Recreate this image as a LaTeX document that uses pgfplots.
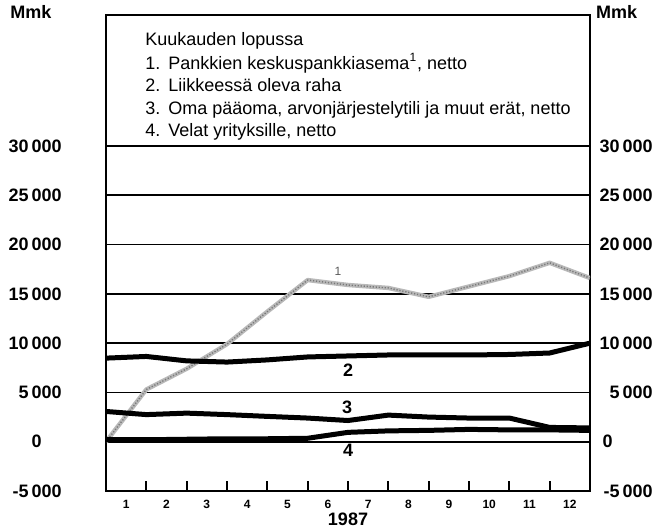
\documentclass[border=0pt]{standalone}
\usepackage{fontspec}
\setmainfont{Liberation Sans}
\usepackage{pgfplots}
\usepackage{pgfplotstable}
\pgfplotsset{compat=1.18}

% month-end values, Mmk (x = month boundary)
\pgfplotstableread{
x    s1    s2    s3   s4
0.5  0     8480  3070 200
1.5  5300  8650  2750 200
2.5  7400  8200  2900 250
3.5  9900  8080  2750 300
4.5  13200 8300  2570 300
5.5  16400 8600  2400 350
6.5  15900 8700  2150 950
7.5  15600 8800  2700 1100
8.5  14700 8800  2500 1150
9.5  15750 8800  2400 1250
10.5 16800 8850  2400 1200
11.5 18150 9000  1450 1200
12.5 16600 10000 1400 1150
}\datatable

\newcommand{\tickfont}{\bfseries\fontsize{9}{9}\selectfont}

\begin{document}
\begin{tikzpicture}
\path[use as bounding box] (0,0) rectangle (328.5pt,265pt);
\begin{axis}[
  at={(53pt,19.5pt)}, anchor=south west,
  scale only axis, width=242pt, height=238pt,
  xmin=0.5, xmax=12.5, ymin=-5000, ymax=43290,
  scaled y ticks=false,
  /pgf/number format/assume math mode=true,
  axis line style={line width=1pt},
  xtick={1,...,12}, major x tick style={draw=none},
  minor xtick={1.5,2.5,...,11.5}, minor tick length=5pt,
  minor tick style={line width=1pt, black},
  xtick align=inside, xtick pos=bottom,
  xticklabel style={font=\bfseries\fontsize{6}{6}\selectfont, yshift=-1pt},
  xlabel={1987},
  every axis x label/.style={at={(axis description cs:0.5,0)}, anchor=center,
    yshift=-14pt, font=\tickfont},
  ytick={-5000,0,...,30000},
  yticklabels={-5\,000,0\phantom{00},5\,000,10\,000,15\,000,20\,000,25\,000,30\,000},
  yticklabel style={anchor=east, inner sep=0pt, xshift=-22pt, font=\tickfont},
  ytick style={draw=none},
  ymajorgrids, major grid style={black, line width=0.8pt},
  every axis plot/.append style={line join=round},
]
\addplot[gray!55, line width=2.2pt] table[x=x, y=s1] {\datatable};
\addplot[gray!95!black, line width=0.7pt, dash pattern=on 0.6pt off 0.9pt] table[x=x, y=s1] {\datatable};
\addplot[black, line width=2.5pt] table[x=x, y=s2] {\datatable};
\addplot[black, line width=2.5pt] table[x=x, y=s3] {\datatable};
\addplot[black, line width=2.5pt] table[x=x, y=s4] {\datatable};

\node[font=\fontsize{6}{6}\selectfont, text=gray!70!black] at (axis cs:6.25,17250) {1};
\node[font=\tickfont] at (axis cs:6.5,7300) {2};
\node[font=\tickfont] at (axis cs:6.48,3450) {3};
\node[font=\tickfont] at (axis cs:6.5,-910) {4};

\begin{scope}[every node/.style={anchor=base west, inner sep=0pt, font=\fontsize{9}{10}\selectfont}]
\node at ([xshift=19.5pt, yshift=-15.2pt]rel axis cs:0,1) {Kuukauden lopussa};
\node at ([xshift=19.5pt, yshift=-27.2pt]rel axis cs:0,1) {1.};
\node at ([xshift=31pt, yshift=-27.2pt]rel axis cs:0,1) {Pankkien keskuspankkiasema\textsuperscript{1}, netto};
\node at ([xshift=19.5pt, yshift=-38.2pt]rel axis cs:0,1) {2.};
\node at ([xshift=31pt, yshift=-38.2pt]rel axis cs:0,1) {Liikkeessä oleva raha};
\node at ([xshift=19.5pt, yshift=-49.7pt]rel axis cs:0,1) {3.};
\node at ([xshift=31pt, yshift=-49.7pt]rel axis cs:0,1) {Oma pääoma, arvonjärjestelytili ja muut erät, netto};
\node at ([xshift=19.5pt, yshift=-60.7pt]rel axis cs:0,1) {4.};
\node at ([xshift=31pt, yshift=-60.7pt]rel axis cs:0,1) {Velat yrityksille, netto};
\end{scope}
\end{axis}

\begin{axis}[
  at={(53pt,19.5pt)}, anchor=south west,
  scale only axis, width=242pt, height=238pt,
  xmin=0.5, xmax=12.5, ymin=-5000, ymax=43290,
  scaled y ticks=false,
  hide x axis, axis line style={draw=none},
  ytick={-5000,0,...,30000}, ytick pos=right, yticklabel pos=right,
  yticklabels={-5\,000,0\phantom{0000},5\,000,10\,000,15\,000,20\,000,25\,000,30\,000},
  yticklabel style={anchor=east, inner sep=0pt, xshift=31.5pt, font=\tickfont},
  ytick style={draw=none},
]
\end{axis}

\node[font=\tickfont] at (15.5pt,259pt) {Mmk};
\node[font=\tickfont] at (308.25pt,259pt) {Mmk};
\end{tikzpicture}
\end{document}
